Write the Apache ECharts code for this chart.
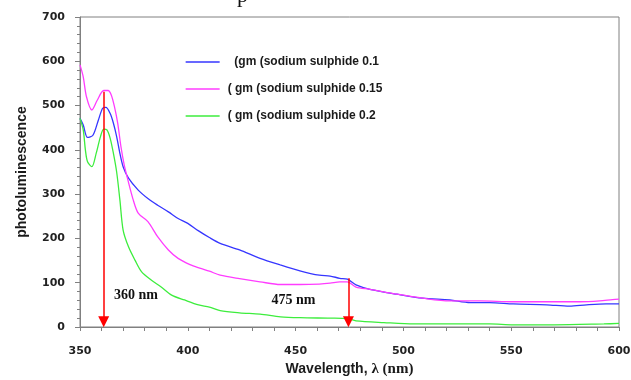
<!DOCTYPE html>
<html>
<head>
<meta charset="utf-8">
<script src="https://cdn.jsdelivr.net/npm/echarts@6/dist/echarts.min.js"></script>
<style>
  html, body { margin: 0; padding: 0; background: #fff; }
  #chart { width: 631px; height: 380px; }
</style>
</head>
<body>
<div id="chart"></div>
<script>
// series names as in the legend
const seriesNames = ['  (gm (sodium sulphide 0.1', '( gm (sodium sulphide 0.15', '( gm (sodium sulphide 0.2']

// 0.1 gm (blue)
const blueX = [350, 351.5, 353.5, 356, 358.5, 360.5, 362, 364, 365.5, 367, 368.5, 370, 372.5, 377, 381.5, 386, 391, 395.5, 400, 405, 410, 415, 424, 433.5, 443, 452, 461, 466, 470.5, 474, 478, 484.5, 497, 509, 521.5, 531, 540, 551, 566.5, 577, 585, 594, 600]
const blueY = [471, 456, 428, 433, 467, 494, 496, 482, 460, 430, 392, 362, 336, 309, 290, 275, 260, 245, 234, 217, 202, 189, 174, 155, 140, 127, 117, 115, 110, 108, 95, 85, 74, 65, 61, 55, 55, 52, 50, 47, 50, 52, 52]

// 0.15 gm (magenta)
const pinkX = [350, 351.5, 353, 355.5, 358, 361, 363, 364.5, 366, 367.5, 369, 370.5, 372, 374.5, 377, 381.5, 386, 391, 395.5, 401, 405.5, 410, 415, 424, 433.5, 443, 452, 461, 466, 470.5, 474, 478, 484.5, 497, 509, 521.5, 535.5, 551, 566.5, 582, 591, 597, 600]
const pinkY = [592, 565, 520, 490, 512, 534, 534, 524, 497, 460, 407, 366, 336, 290, 257, 238, 204, 174, 155, 141, 133, 126, 117, 109, 102, 96, 96, 97, 99, 102, 102, 90, 85, 74, 65, 59, 59, 57, 57, 57, 59, 62, 63]

// 0.2 gm (green)
const greenX = [350, 351.5, 352.5, 353.5, 355.5, 357.5, 359.5, 361, 362.5, 364, 365.5, 367, 368.5, 370, 372.5, 375.5, 378.5, 383, 387.5, 392.5, 398.5, 405, 410, 415, 424, 433.5, 443, 452, 466, 474, 478, 491, 505, 540, 551, 570, 593, 600]
const greenY = [471, 445, 400, 373, 362, 392, 430, 447, 445, 426, 392, 350, 287, 219, 181, 151, 125, 106, 91, 72, 61, 50, 45, 37, 32, 29, 23, 21, 20, 19, 14, 10, 7, 7, 5, 5, 7, 8]

// arrows: [wavelength, top value] and notes
const arrows = [[361, 531], [474.5, 110]]
const notes = [['360 nm', 376, 72], ['475 nm', 449, 60]]

const xTicks = [350, 400, 450, 500, 550, 600]
const yTicks = [0, 100, 200, 300, 400, 500, 600, 700]

const zip = (xs, ys) => xs.map((x, i) => [x, ys[i]])

const chart = echarts.init(document.getElementById('chart'))

const baseSeries = (name, color, xs, ys) => ({
  name: name,
  type: 'line',
  data: zip(xs, ys),
  symbol: 'none',
  smooth: 0.3,
  lineStyle: { color: color, width: 1.3 },
  itemStyle: { color: color },
  emphasis: { disabled: true },
  z: 3
})

const options = {
  animation: false,
  title: {
    text: 'p',
    left: 232,
    top: -20,
    textStyle: { fontFamily: 'Liberation Serif', fontSize: 22, fontWeight: 'normal', color: '#111' }
  },
  grid: {
    left: 80, right: 12, top: 17, bottom: 53,
    outerBoundsMode: 'none',
    show: true, borderColor: '#808080', borderWidth: 1
  },
  legend: {
    orient: 'vertical',
    left: 185,
    top: 56,
    padding: 0,
    itemWidth: 34,
    itemHeight: 14,
    itemGap: 15,
    itemStyle: { opacity: 0 },
    lineStyle: { opacity: 1, width: 1.3 },
    data: seriesNames,
    textStyle: { fontFamily: 'Liberation Sans', fontWeight: 'bold', fontSize: 12, color: '#1a1a1a', padding: [0, 0, 0, 3] }
  },
  xAxis: {
    type: 'value',
    min: 350, max: 600, interval: 50,
    name: '{a|Wavelength, }{b|λ (nm)}',
    nameLocation: 'middle',
    nameGap: 35,
    nameTextStyle: {
      rich: {
        a: { fontFamily: 'Liberation Sans', fontWeight: 'bold', fontSize: 14, color: '#1a1a1a' },
        b: { fontFamily: 'Liberation Serif', fontWeight: 'bold', fontSize: 15, color: '#1a1a1a' }
      }
    },
    axisLine: { lineStyle: { color: '#808080' } },
    axisTick: { length: 4, lineStyle: { color: '#808080' } },
    minorTick: { show: true, splitNumber: 5, length: 4, lineStyle: { color: '#808080' } },
    splitLine: { show: false },
    axisLabel: {
      margin: 19,
      fontFamily: 'DejaVu Sans', fontWeight: 'bold', fontSize: 11, color: '#222',
      formatter: v => xTicks.includes(v) ? String(v) : ''
    }
  },
  yAxis: {
    type: 'value',
    min: 0, max: 700, interval: 100,
    name: 'photoluminescence',
    nameLocation: 'middle',
    nameGap: 51,
    nameTextStyle: { fontFamily: 'Liberation Sans', fontWeight: 'bold', fontSize: 14, color: '#1a1a1a' },
    axisLine: { show: true, lineStyle: { color: '#808080' } },
    axisTick: { show: true, length: 5, lineStyle: { color: '#808080' } },
    minorTick: { show: true, splitNumber: 5, length: 3, lineStyle: { color: '#808080' } },
    splitLine: { show: false },
    axisLabel: {
      margin: 15,
      fontFamily: 'DejaVu Sans', fontWeight: 'bold', fontSize: 11, color: '#222',
      formatter: v => yTicks.includes(v) ? String(v) : ''
    }
  },
  series: [
    baseSeries(seriesNames[0], '#3636ff', blueX, blueY),
    baseSeries(seriesNames[1], '#ff3cff', pinkX, pinkY),
    baseSeries(seriesNames[2], '#3ded3d', greenX, greenY),
    {
      type: 'line',
      data: [],
      silent: true,
      markLine: {
        silent: true,
        symbol: ['none', 'triangle'],
        symbolSize: 11,
        label: { show: false },
        lineStyle: { color: '#ff0000', width: 1.5, type: 'solid' },
        emphasis: { disabled: true },
        data: arrows.map(a => [{ coord: [a[0], a[1]] }, { coord: [a[0], 12] }])
      },
      markPoint: {
        silent: true,
        symbol: 'circle',
        symbolSize: 0,
        label: {
          show: true,
          position: 'inside',
          fontFamily: 'Liberation Serif', fontWeight: 'bold', fontSize: 14, color: '#111',
          formatter: p => p.name
        },
        data: notes.map(n => ({ name: n[0], coord: [n[1], n[2]] }))
      },
      z: 4
    }
  ]
}

chart.setOption(options)
</script>
</body>
</html>
